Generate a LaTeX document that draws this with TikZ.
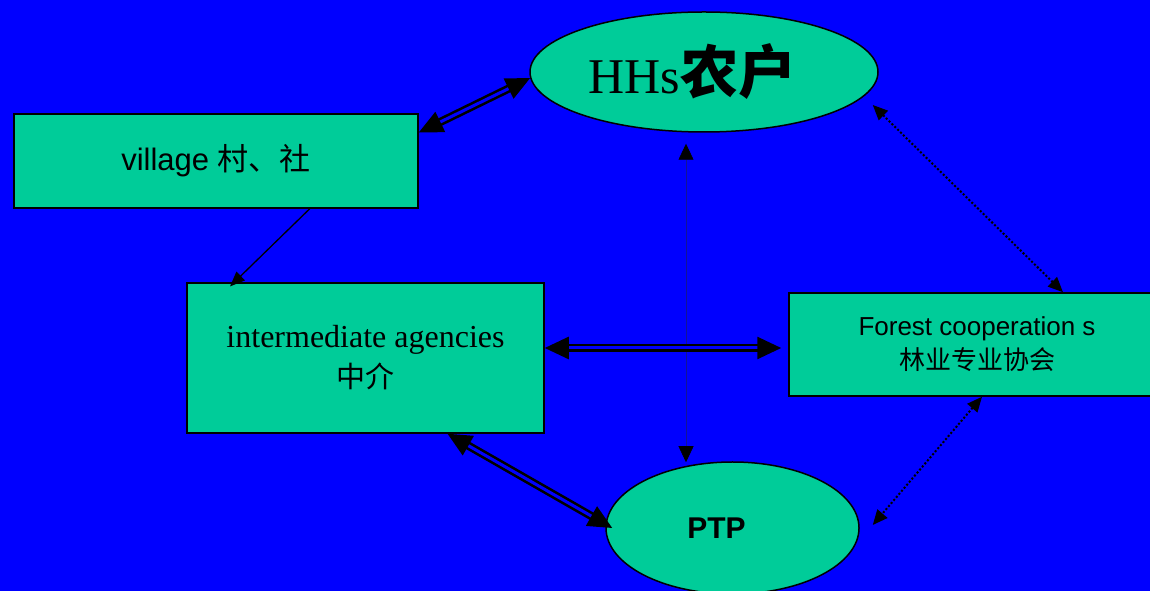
\documentclass[tikz,border=0pt]{standalone}
\usepackage{fontspec}
\setmainfont{Liberation Serif}
\setsansfont{Liberation Sans}
\newfontfamily\cjk{Noto Sans CJK SC}
\usepackage{tikz}
\usetikzlibrary{positioning}
\usetikzlibrary{arrows.meta}
\usetikzlibrary{shapes.geometric}

\definecolor{slideblue}{RGB}{0,0,255}
\definecolor{boxgreen}{RGB}{0,204,153}
\definecolor{faintblue}{RGB}{20,20,150}

\begin{document}
\begin{tikzpicture}[x=1pt,y=1pt,
    box/.style={draw=black, line width=1.5pt, fill=boxgreen, rectangle, inner sep=0pt},
    blob/.style={draw=black, line width=1.5pt, fill=boxgreen, ellipse, inner sep=0pt},
    twoway/.style={draw=black, line width=2.6pt, double=slideblue, double distance=3pt,
        {Triangle[length=24pt,width=22pt]}-{Triangle[length=24pt,width=22pt]}},
    oneway/.style={draw=black, line width=1.3pt, -{Triangle[length=15pt,width=12pt]}},
    dots/.style={draw=black, line width=2pt, dash pattern=on 2pt off 2pt,
        {Triangle[length=15pt,width=13pt]}-{Triangle[length=15pt,width=13pt]}},
    faint/.style={draw=faintblue, line width=0.6pt,
        {Triangle[length=16pt,width=15pt,fill=black,color=black]}-{Triangle[length=16pt,width=15pt,fill=black,color=black]}}]
    \useasboundingbox (0,0) rectangle (1150,591);
    \fill[slideblue] (0,0) rectangle (1150,591);

    % nodes
    \node[blob, minimum width=348pt, minimum height=120pt] (hhs) at (704,519)
        {\hspace*{-23pt}\fontsize{50}{50}\selectfont HHs{\cjk\bfseries\fontsize{58}{58}\selectfont 农户}};
    \node[box, minimum width=404pt, minimum height=94pt,
        font=\sffamily\fontsize{31}{31}\selectfont] (village) at (216,430)
        {village {\cjk 村、社}};
    \node[box, minimum width=357pt, minimum height=150pt, align=center,
        font=\fontsize{32}{40}\selectfont] (inter) at (365.5,233)
        {intermediate agencies\\{\cjk\fontsize{29}{40}\selectfont 中介}};
    \node[box, minimum width=376pt, minimum height=103pt, align=center,
        font=\sffamily\fontsize{26}{34}\selectfont] (forest) at (977,246.5)
        {Forest cooperation s\\{\cjk 林业专业协会}};
    \node[blob, minimum width=253pt, minimum height=132pt,
        font=\sffamily\bfseries\fontsize{30}{30}\selectfont] (ptp) at (732.5,63)
        {\hspace*{-32pt}PTP};

    % connectors
    \draw[twoway] (village.8) -- (hhs.182);
    \draw[oneway, shorten >=-6pt] (village.-27) -- (inter.150);
    \draw[faint] ([xshift=-18pt,yshift=-11pt]hhs.south) -- ([xshift=-46.5pt,yshift=-1pt]ptp.north);
    \draw[dots] ([xshift=-6pt,yshift=-33pt]hhs.east) -- ([xshift=86pt]forest.north);
    \draw[twoway] ([yshift=10pt]inter.east) -- ([xshift=-7pt,yshift=-3.5pt]forest.west);
    \draw[twoway] ([xshift=82pt]inter.south) -- ([xshift=7pt]ptp.west);
    \draw[dots] ([xshift=5pt]forest.south) -- ([xshift=13pt,yshift=3pt]ptp.east);
\end{tikzpicture}
\end{document}
